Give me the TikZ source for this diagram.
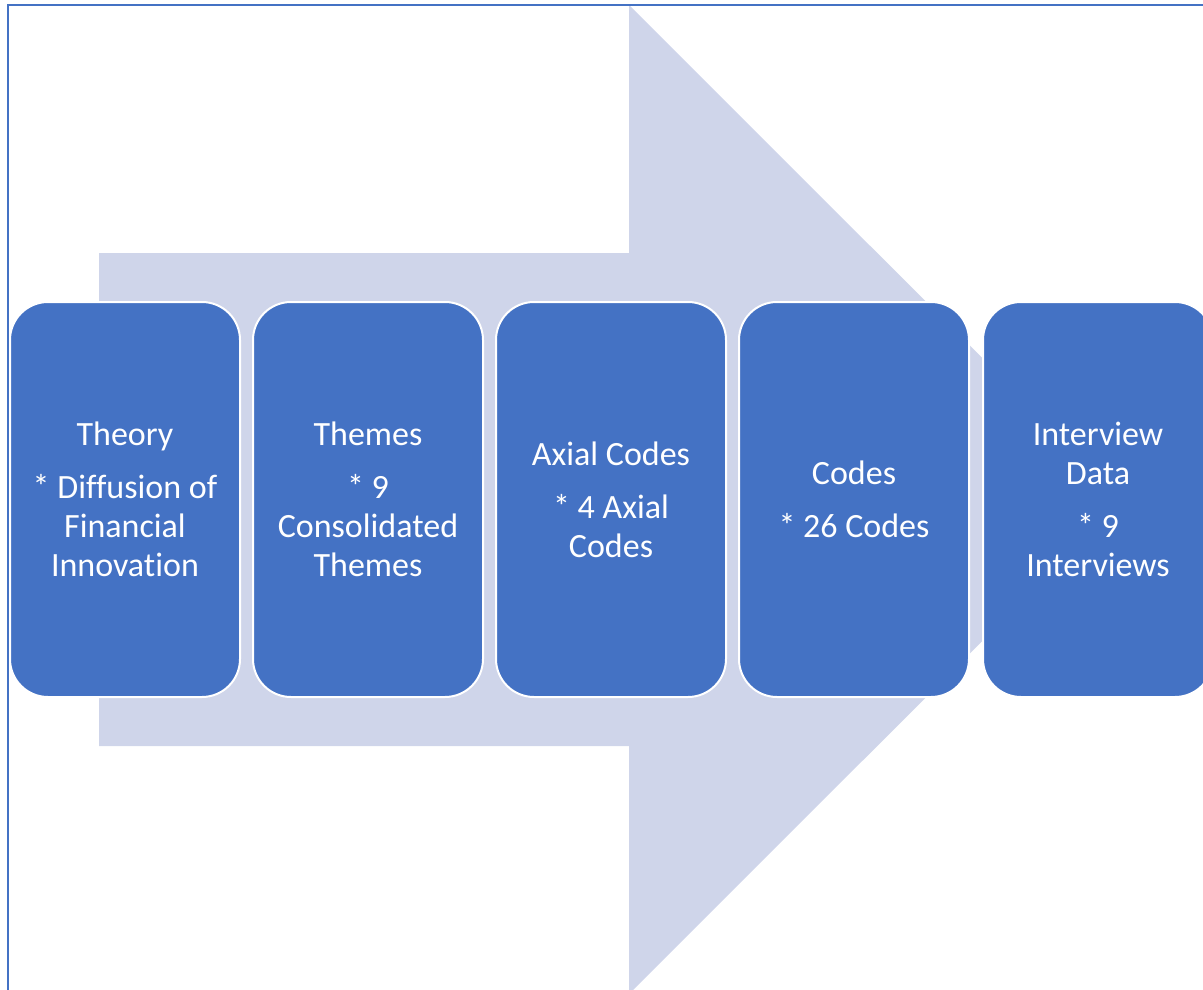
\documentclass[tikz,border=0pt]{standalone}
\usepackage{fontspec}
\setmainfont{Carlito}[Ligatures=NoCommon]
\definecolor{boxblue}{HTML}{4472C4}
\definecolor{arrowfill}{HTML}{CFD5EA}
\begin{document}
\begin{tikzpicture}[x=1pt,y=-1pt,
  stage/.style={rectangle, rounded corners=38pt, fill=boxblue, draw=white,
    line width=2pt, minimum width=230pt, minimum height=395pt, text=white,
    align=center, font=\fontsize{34}{39}\selectfont, inner sep=0pt},
  framestyle/.style={draw=boxblue, line width=2pt}]
\useasboundingbox (0,0) rectangle (1203,990);
\fill[arrowfill] (99,253) -- (629,253) -- (629,5) -- (1124,499.5) -- (629,994) -- (629,746) -- (99,746) -- cycle;
\draw[framestyle] (7.5,1000) -- (7.5,5) -- (1210,5);
\node[stage] (theory) at (125,499.5) {Theory\\[14pt]* Diffusion of\\Financial\\Innovation};
\node[stage] (themes) at (368,499.5) {Themes\\[14pt]* 9\\Consolidated\\Themes};
\node[stage] (axial) at (611,499.5) {Axial Codes\\[14pt]* 4 Axial\\Codes};
\node[stage] (codes) at (854,499.5) {Codes\\[14pt]* 26 Codes};
\node[stage] (data) at (1098,499.5) {Interview\\Data\\[14pt]* 9\\Interviews};
\end{tikzpicture}
\end{document}
